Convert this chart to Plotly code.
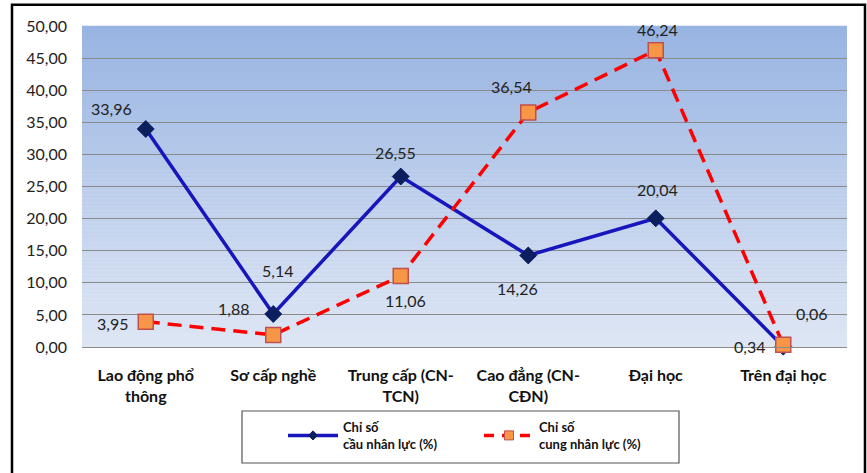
import plotly.graph_objects as go

# Categories (education / skill level)
categories = [
    "Lao động phổ<br>thông",
    "Sơ cấp nghề",
    "Trung cấp (CN-<br>TCN)",
    "Cao đẳng (CN-<br>CĐN)",
    "Đại học",
    "Trên đại học",
]

# Series values (%)
demand = [33.96, 5.14, 26.55, 14.26, 20.04, 0.06]
supply = [3.95, 1.88, 11.06, 36.54, 46.24, 0.34]

demand_name = "<b>Chỉ số<br>cầu nhân lực (%)</b>"
supply_name = "<b>Chỉ số<br>cung nhân lực (%)</b>"

y_ticks = [0, 5, 10, 15, 20, 25, 30, 35, 40, 45, 50]

# Label offsets (px) for each data label
demand_offsets = [(-34, 20), (4, 44), (-5, 24), (-11, -33), (2, 29), (28, 33)]
supply_offsets = [(-33, -2), (-40, 26), (5, -25), (-17, 26), (2, 21), (-34, -2)]

FONT = "Lato, 'Noto Sans', sans-serif"

BLUE = "#1616BC"
NAVY = "#0B1E5E"
RED = "#FF0000"
ORANGE = "#F79646"
ORANGE_EDGE = "#C0504D"
DASH = "14px,8px"

xs = list(range(len(categories)))

fig = go.Figure()

fig.add_trace(go.Scatter(
    x=xs, y=demand, name=demand_name, mode="lines+markers", showlegend=False,
    line=dict(color=BLUE, width=3.5),
    marker=dict(symbol="diamond", size=13, color=NAVY, line=dict(color=NAVY, width=1)),
    cliponaxis=False,
))
fig.add_trace(go.Scatter(
    x=xs, y=supply, name=supply_name, mode="lines+markers", showlegend=False,
    line=dict(color=RED, width=3.5, dash=DASH),
    marker=dict(symbol="square", size=15, color=ORANGE, line=dict(color=ORANGE_EDGE, width=1.5)),
    cliponaxis=False,
))

# Legend entries with smaller symbols
fig.add_trace(go.Scatter(
    x=[None], y=[None], name=demand_name, mode="lines+markers",
    line=dict(color=BLUE, width=3.5),
    marker=dict(symbol="diamond", size=7, color=NAVY, line=dict(color=NAVY, width=1)),
))
fig.add_trace(go.Scatter(
    x=[None], y=[None], name=supply_name, mode="lines+markers",
    line=dict(color=RED, width=3.5, dash="10px,8px"),
    marker=dict(symbol="square", size=9, color=ORANGE, line=dict(color=ORANGE_EDGE, width=1)),
))

def fmt(v):
    return f"{v:.2f}".replace(".", ",")

annotations = []
for series, offs in ((demand, demand_offsets), (supply, supply_offsets)):
    for x, v, (dx, dy) in zip(xs, series, offs):
        annotations.append(dict(
            x=x, y=v, xref="x", yref="y", text=fmt(v), showarrow=False,
            xshift=dx, yshift=dy,
            font=dict(family=FONT, size=16, color="#222222"),
        ))

# Vertical gradient for the plot area
top_rgb = (152, 180, 226)
bot_rgb = (222, 230, 244)
n_strips = 80
shapes = []
for i in range(n_strips):
    t = i / (n_strips - 1)
    c = tuple(round(top_rgb[k] + (bot_rgb[k] - top_rgb[k]) * t) for k in range(3))
    y1 = 1 - i / n_strips
    y0 = 1 - (i + 1) / n_strips
    shapes.append(dict(
        type="rect", xref="paper", yref="paper", x0=0, x1=1, y0=y0, y1=y1 + 0.001,
        fillcolor=f"rgb{c}", line=dict(width=0), layer="below",
    ))

# Outer chart frame
shapes.append(dict(
    type="rect", xref="paper", yref="paper",
    x0=-0.0915, x1=1.0235, y0=-0.42, y1=1.066,
    line=dict(color="#000000", width=2.5), fillcolor="rgba(0,0,0,0)", layer="above",
))
# Legend frame
shapes.append(dict(
    type="rect", xref="paper", yref="paper",
    x0=(242 - 82) / 765, x1=(679 - 82) / 765,
    y0=(347 - 463) / 321, y1=(347 - 411) / 321,
    line=dict(color="#555555", width=1.2), fillcolor="rgba(0,0,0,0)", layer="above",
))

fig.update_layout(
    width=867, height=473,
    margin=dict(l=82, r=20, t=26, b=126),
    paper_bgcolor="white",
    plot_bgcolor="rgba(0,0,0,0)",
    separators=", ",
    font=dict(family=FONT, color="#222222"),
    shapes=shapes,
    annotations=annotations,
    showlegend=True,
    legend=dict(
        orientation="h", x=(283 - 82) / 765, y=(347 - 412) / 321,
        xanchor="left", yanchor="top",
        font=dict(family=FONT, size=13, color="#111111", weight="bold"),
        bgcolor="rgba(0,0,0,0)", borderwidth=0,
        entrywidth=131, itemwidth=50, tracegroupgap=0,
    ),
)

fig.update_xaxes(
    range=[-0.5, 5.5], tickmode="array", tickvals=xs, ticktext=categories,
    showgrid=False, zeroline=False, showline=True, linecolor="#8C8C8C", linewidth=1,
    ticks="", tickfont=dict(family=FONT, size=16, color="#111111", weight="bold"),
    ticklabelstandoff=14, fixedrange=True,
)
fig.update_yaxes(
    range=[0, 50], tickmode="array", tickvals=y_ticks, tickformat=".2f",
    showgrid=True, gridcolor="#8A8A8A", gridwidth=1, zeroline=False,
    showline=False, ticks="", tickfont=dict(family=FONT, size=16, color="#222222"),
    ticklabelstandoff=14, fixedrange=True,
)

fig.write_html("out.html")
